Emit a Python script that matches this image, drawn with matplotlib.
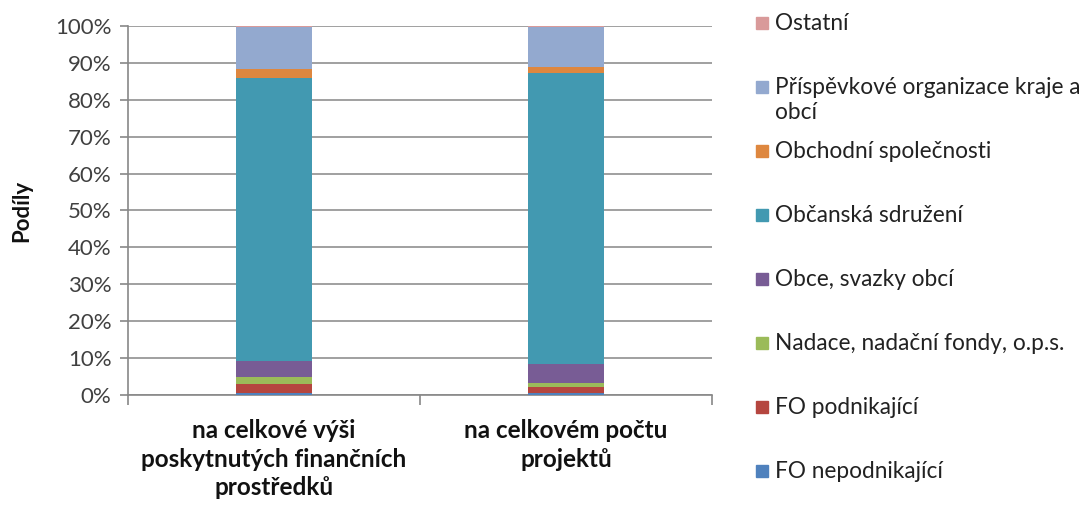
import numpy as np
import matplotlib.pyplot as plt
from matplotlib.patches import Rectangle
from matplotlib.ticker import FuncFormatter

plt.rcParams["font.family"] = ["Lato", "DejaVu Sans"]

categories = [
    "na celkové výši\nposkytnutých finančních\nprostředků",
    "na celkovém počtu\nprojektů",
]
series_names = [
    "FO nepodnikající",
    "FO podnikající",
    "Nadace, nadační fondy, o.p.s.",
    "Obce, svazky obcí",
    "Občanská sdružení",
    "Obchodní společnosti",
    "Příspěvkové organizace kraje a\nobcí",
    "Ostatní",
]
# podíly v %
fo_nepodnikajici = [0.5, 0.5]
fo_podnikajici = [2.5, 1.6]
nadace = [2.0, 1.1]
obce = [4.3, 5.2]
obcanska_sdruzeni = [76.7, 78.8]
obchodni_spolecnosti = [2.3, 1.6]
prispevkove_org = [11.4, 10.9]
ostatni = [0.3, 0.3]

series_values = [
    fo_nepodnikajici, fo_podnikajici, nadace, obce,
    obcanska_sdruzeni, obchodni_spolecnosti, prispevkove_org, ostatni,
]
colors = [
    "#4F81BD", "#B5463F", "#9BBB59", "#785C95",
    "#4299B1", "#DE873F", "#93A9CF", "#D99A9A",
]

fig = plt.figure(figsize=(10.83, 5.07), dpi=100)
ax = fig.add_axes([128 / 1083, 1 - 395 / 507, 584 / 1083, 369 / 507])

x = np.arange(len(categories))
bottom = np.zeros(len(categories))
for vals, col in zip(series_values, colors):
    v = np.array(vals) / 100.0
    ax.bar(x, v, bottom=bottom, width=0.26, color=col, zorder=3)
    bottom += v

ax.set_xlim(-0.5, 1.5)
ax.set_ylim(0, 1)
ax.set_yticks(np.arange(0, 1.01, 0.1))
ax.yaxis.set_major_formatter(FuncFormatter(lambda v, _p: f"{v:.0%}"))
ax.grid(axis="y", color="#A0A0A0", linewidth=1.4, zorder=0)

ax.set_xticks(x)
ax.set_xticklabels(categories, fontsize=17.5, fontweight="bold", color="#111111",
                   linespacing=1.31)
ax.tick_params(axis="x", which="major", length=0, pad=17)
ax.set_xticks([-0.5, 0.5, 1.5], minor=True)
ax.tick_params(axis="x", which="minor", length=7, color="#888888", width=1.2)
ax.tick_params(axis="y", length=6, color="#888888", width=1.2,
               labelsize=16, labelcolor="#404040", pad=6)

for side in ["top", "right"]:
    ax.spines[side].set_visible(False)
for side in ["left", "bottom"]:
    ax.spines[side].set_color("#888888")
    ax.spines[side].set_linewidth(1.2)

ax.set_ylabel("Podíly", fontsize=16, fontweight="bold", color="#111111",
              labelpad=16)

# legenda vpravo
for i, (name, col) in enumerate(zip(series_names[::-1], colors[::-1])):
    yc = 1 - (23 + 64 * i) / 507
    fig.patches.append(Rectangle((756 / 1083, yc - 6 / 507), 12 / 1083, 12 / 507,
                                 transform=fig.transFigure, color=col))
    for k, line in enumerate(name.split("\n")):
        fig.text(775 / 1083, yc - (7 + 25 * k) / 507, line, fontsize=16.3,
                 color="#222222", va="baseline", ha="left")

fig.savefig("out.png", dpi=100)
